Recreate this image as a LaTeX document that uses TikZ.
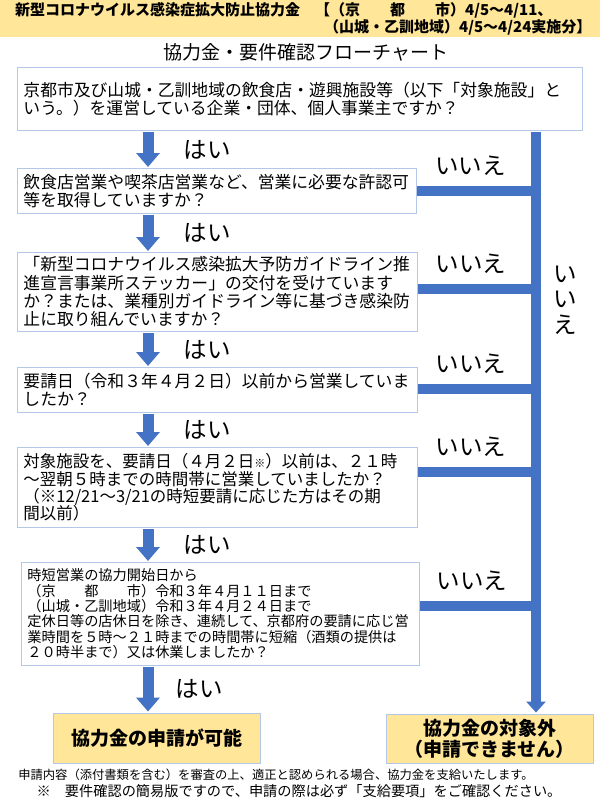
\documentclass[tikz,border=0pt]{standalone}
\usepackage{fontspec}
\setmainfont{Noto Sans CJK JP}
\usepackage{xcolor}
\usetikzlibrary{arrows.meta,positioning}
\definecolor{flowblue}{RGB}{68,114,196}
\definecolor{edgeblue}{RGB}{180,199,231}
\definecolor{paleyellow}{RGB}{255,230,153}
\newcommand{\fsz}[2]{\fontsize{#1}{#2}\selectfont}
\newcommand{\kyotoshi}{\makebox[9em][s]{（京\hfill 都\hfill 市）}}

\begin{document}
\begin{tikzpicture}[x=1pt,y=-1pt,
  qbox/.style={draw=edgeblue, line width=0.9pt, fill=white, align=left, anchor=north west,
    inner xsep=6pt, inner ysep=0pt, font=\fsz{16.8}{18.3}},
  goalbox/.style={draw=edgeblue, line width=0.9pt, fill=paleyellow, align=center,
    font=\bfseries\fsz{19}{21}, minimum width=207pt},
  yesarrow/.style={flowblue, line width=11pt, -{Triangle[width=23pt,length=14pt]},
    shorten <=1.5pt, shorten >=1pt},
  nobar/.style={flowblue, line width=9.5pt},
  trunk/.style={flowblue, line width=10pt, -{Triangle[width=19pt,length=11pt]},
    shorten <=1.5pt, shorten >=1pt},
  answer/.style={font=\fsz{23.5}{25.5}, text=black, inner sep=0pt}]
\useasboundingbox (0,0) rectangle (600,800);
% banner
\fill[paleyellow] (0,0) rectangle (600,37);
\node[anchor=north west, align=left, inner sep=0pt, font=\bfseries\fsz{15}{17}] (head) at (15,2)
  {新型コロナウイルス感染症拡大防止協力金　【\kyotoshi 4/5～4/11、\\
   \hspace*{20.6em}（山城・乙訓地域）4/5～4/24実施分】};
\node[font=\fsz{19}{21}] (title) at (306,52) {協力金・要件確認フローチャート};
% question boxes
\node[qbox, text width=553pt, minimum height=63pt] (q1) at (17,67)
  {京都市及び山城・乙訓地域の飲食店・遊興施設等（以下「対象施設」と\\
   いう。）を運営している企業・団体、個人事業主ですか？};
\node[qbox, text width=387pt, minimum height=45pt] (q2) at (17,168)
  {飲食店営業や喫茶店営業など、営業に必要な許認可\\
   等を取得していますか？};
\node[qbox, text width=388pt, minimum height=79pt] (q3) at (17,252)
  {「新型コロナウイルス感染拡大予防ガイドライン推\\
   進宣言事業所ステッカー」の交付を受けています\\
   か？または、業種別ガイドライン等に基づき感染防\\
   止に取り組んでいますか？};
\node[qbox, text width=388pt, minimum height=45pt] (q4) at (17,367)
  {要請日（令和３年４月２日）以前から営業していま\\
   したか？};
\node[qbox, text width=388pt, minimum height=80pt, font=\fsz{16.5}{17.2}] (q5) at (17,447)
  {対象施設を、要請日（４月２日{\fsz{11}{11}※}）以前は、２１時\\
   ～翌朝５時までの時間帯に営業していましたか？\\
   （※12/21～3/21の時短要請に応じた方はその期\\
   間以前）};
\node[qbox, text width=386pt, minimum height=103pt, font=\fsz{14.2}{15.4}] (q6) at (21,562)
  {時短営業の協力開始日から\\
   \kyotoshi 令和３年４月１１日まで\\
   （山城・乙訓地域）令和３年４月２４日まで\\
   定休日等の店休日を除き、連続して、京都府の要請に応じ営\\
   業時間を５時～２１時までの時間帯に短縮（酒類の提供は\\
   ２０時半まで）又は休業しましたか？};
% outcomes
\node[goalbox, minimum height=50pt] (ok) at (156.5,738) {協力金の申請が可能};
\node[goalbox, minimum height=49pt] (ng) at (489.5,738.5) {協力金の対象外\\（申請できません）};
% yes path
\coordinate (yesx) at (148,0);
\foreach \a/\b/\d in {q1/q2/30,q2/q3/30,q3/q4/30,q4/q5/30,q5/q6/30,q6/ok/22}
  \draw[yesarrow] (\a.south -| yesx) -- (\b.north -| yesx) node[answer, midway, right=\d pt] {はい};
% no path
\coordinate (nox) at (536,0);
\foreach \q/\y in {q2/191,q3/289,q4/389,q5/472,q6/606} {
  \coordinate (j\q) at (536,\y);
  \draw[nobar] (\q.east |- j\q) -- (j\q) node[answer, midway, above=11pt, xshift=-6pt] {いいえ};
}
\draw[trunk] (q1.south -| nox) -- (ng.north -| nox);
\node[answer, align=center] (nolabel) at (565,300) {い\\い\\え};
% notes
\node[font=\fsz{12.3}{14}] (note1) at (276,775)
  {申請内容（添付書類を含む）を審査の上、適正と認められる場合、協力金を支給いたします。};
\node[font=\fsz{14.2}{16}] (note2) at (299,791)
  {※　要件確認の簡易版ですので、申請の際は必ず「支給要項」をご確認ください。};
\end{tikzpicture}
\end{document}
